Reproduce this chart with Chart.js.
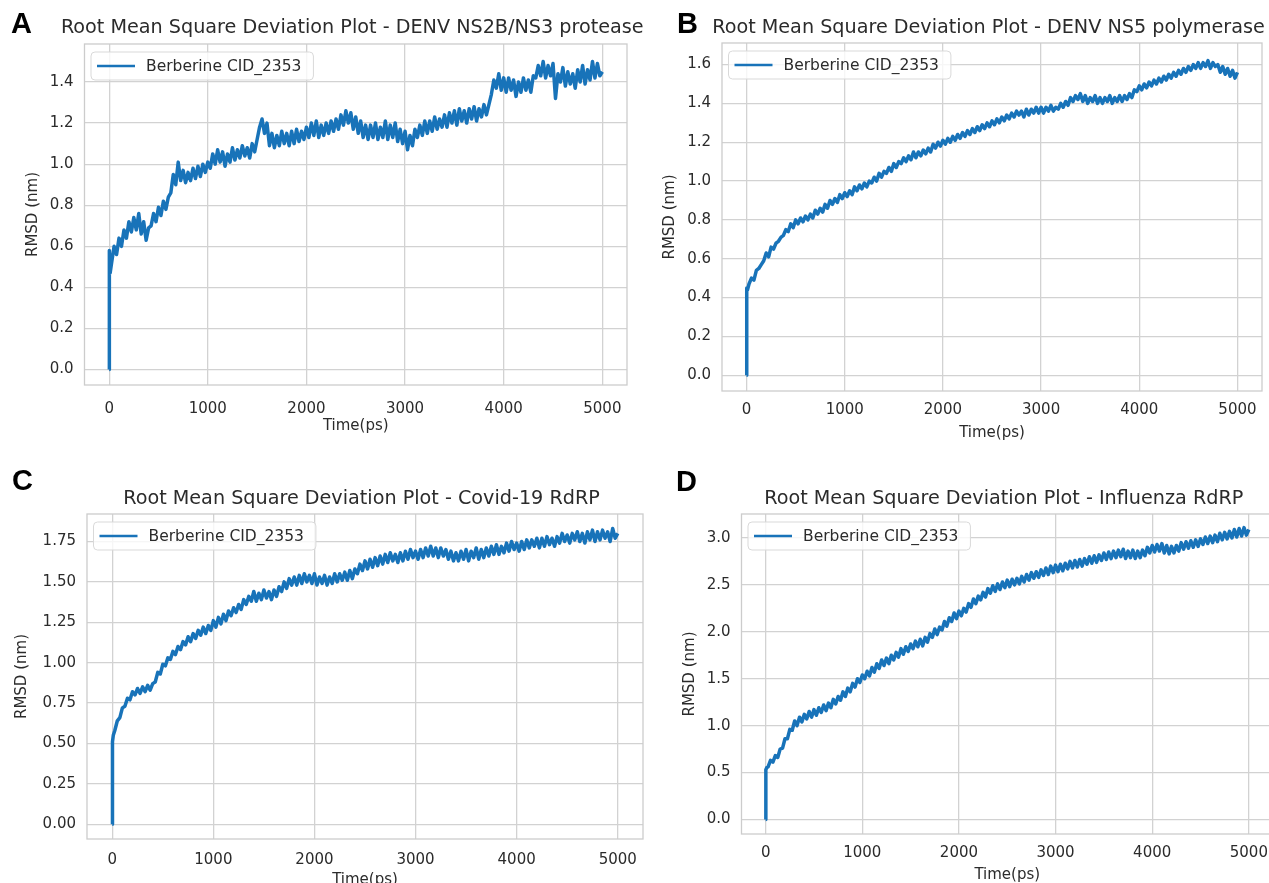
<!DOCTYPE html>
<html lang="en">
<head>
<meta charset="UTF-8">
<title>RMSD plots - Berberine CID_2353</title>
<script src="https://cdn.jsdelivr.net/npm/chart.js"></script>
<style>
  html, body { margin: 0; padding: 0; background: #fff; overflow: hidden; }
  body { width: 1269px; height: 883px; position: relative; }
  canvas { position: absolute; }
</style>
</head>
<body>
<canvas id="chartA" width="660" height="450" style="left:0px;top:0px"></canvas>
<canvas id="chartB" width="629" height="450" style="left:640px;top:0px"></canvas>
<canvas id="chartC" width="660" height="460" style="left:0px;top:441px"></canvas>
<canvas id="chartD" width="625" height="460" style="left:655px;top:441px"></canvas>

<script>
// simulation time (ps), shared by all four runs
const timePs = [0, 2, 10,
  25, 50, 75, 100, 125, 150, 175, 200,
  225, 250, 275, 300, 325, 350, 375, 400,
  425, 450, 475, 500, 525, 550, 575, 600,
  625, 650, 675, 700, 725, 750, 775, 800,
  825, 850, 875, 900, 925, 950, 975, 1000,
  1025, 1050, 1075, 1100, 1125, 1150, 1175, 1200,
  1225, 1250, 1275, 1300, 1325, 1350, 1375, 1400,
  1425, 1450, 1475, 1500, 1525, 1550, 1575, 1600,
  1625, 1650, 1675, 1700, 1725, 1750, 1775, 1800,
  1825, 1850, 1875, 1900, 1925, 1950, 1975, 2000,
  2025, 2050, 2075, 2100, 2125, 2150, 2175, 2200,
  2225, 2250, 2275, 2300, 2325, 2350, 2375, 2400,
  2425, 2450, 2475, 2500, 2525, 2550, 2575, 2600,
  2625, 2650, 2675, 2700, 2725, 2750, 2775, 2800,
  2825, 2850, 2875, 2900, 2925, 2950, 2975, 3000,
  3025, 3050, 3075, 3100, 3125, 3150, 3175, 3200,
  3225, 3250, 3275, 3300, 3325, 3350, 3375, 3400,
  3425, 3450, 3475, 3500, 3525, 3550, 3575, 3600,
  3625, 3650, 3675, 3700, 3725, 3750, 3775, 3800,
  3825, 3850, 3875, 3900, 3925, 3950, 3975, 4000,
  4025, 4050, 4075, 4100, 4125, 4150, 4175, 4200,
  4225, 4250, 4275, 4300, 4325, 4350, 4375, 4400,
  4425, 4450, 4475, 4500, 4525, 4550, 4575, 4600,
  4625, 4650, 4675, 4700, 4725, 4750, 4775, 4800,
  4825, 4850, 4875, 4900, 4925, 4950, 4975, 5000];

// A - DENV NS2B/NS3 protease (nm)
const rmsdProtease = [0.00, 0.58, 0.47,
  0.52, 0.60, 0.56, 0.64, 0.60, 0.68, 0.64, 0.72,
  0.67, 0.74, 0.68, 0.76, 0.66, 0.72, 0.63, 0.69,
  0.70, 0.76, 0.72, 0.79, 0.75, 0.82, 0.78, 0.84,
  0.86, 0.95, 0.90, 1.01, 0.92, 0.97, 0.91, 0.96,
  0.92, 0.98, 0.93, 0.99, 0.94, 1.00, 0.96, 1.01,
  0.98, 1.05, 1.00, 1.07, 1.01, 1.06, 0.99, 1.05,
  1.01, 1.08, 1.02, 1.07, 1.03, 1.09, 1.04, 1.08,
  1.03, 1.10, 1.06, 1.12, 1.18, 1.22, 1.15, 1.20,
  1.09, 1.15, 1.08, 1.14, 1.09, 1.16, 1.10, 1.15,
  1.09, 1.16, 1.10, 1.17, 1.11, 1.16, 1.12, 1.18,
  1.13, 1.20, 1.14, 1.21, 1.13, 1.19, 1.14, 1.20,
  1.15, 1.21, 1.16, 1.22, 1.17, 1.24, 1.19, 1.26,
  1.20, 1.25, 1.17, 1.23, 1.15, 1.21, 1.13, 1.19,
  1.12, 1.19, 1.13, 1.20, 1.12, 1.18, 1.13, 1.21,
  1.12, 1.19, 1.13, 1.20, 1.11, 1.17, 1.10, 1.16,
  1.07, 1.14, 1.09, 1.17, 1.13, 1.19, 1.14, 1.21,
  1.15, 1.21, 1.16, 1.23, 1.17, 1.22, 1.18, 1.24,
  1.18, 1.25, 1.20, 1.26, 1.19, 1.27, 1.21, 1.26,
  1.20, 1.27, 1.22, 1.28, 1.21, 1.27, 1.23, 1.29,
  1.24, 1.29, 1.34, 1.41, 1.37, 1.44, 1.36, 1.42,
  1.35, 1.42, 1.36, 1.41, 1.33, 1.40, 1.35, 1.42,
  1.36, 1.41, 1.35, 1.43, 1.42, 1.48, 1.43, 1.50,
  1.42, 1.48, 1.43, 1.49, 1.32, 1.44, 1.40, 1.47,
  1.38, 1.45, 1.39, 1.44, 1.37, 1.46, 1.40, 1.48,
  1.39, 1.46, 1.41, 1.50, 1.42, 1.49, 1.43, 1.45];

// B - DENV NS5 polymerase (nm)
const rmsdPolymerase = [0.00, 0.45, 0.44,
  0.47, 0.50, 0.49, 0.54, 0.55, 0.57, 0.59, 0.63,
  0.61, 0.66, 0.65, 0.68, 0.69, 0.71, 0.72, 0.75,
  0.74, 0.78, 0.76, 0.80, 0.78, 0.81, 0.79, 0.82,
  0.80, 0.83, 0.81, 0.85, 0.83, 0.86, 0.84, 0.88,
  0.86, 0.90, 0.88, 0.91, 0.89, 0.93, 0.91, 0.94,
  0.92, 0.95, 0.93, 0.97, 0.95, 0.98, 0.96, 0.99,
  0.97, 1.00, 0.99, 1.02, 1.00, 1.04, 1.02, 1.05,
  1.04, 1.07, 1.05, 1.09, 1.07, 1.10, 1.09, 1.12,
  1.10, 1.13, 1.11, 1.15, 1.12, 1.15, 1.13, 1.16,
  1.14, 1.17, 1.15, 1.19, 1.17, 1.20, 1.18, 1.21,
  1.19, 1.22, 1.20, 1.23, 1.21, 1.24, 1.22, 1.25,
  1.23, 1.26, 1.24, 1.27, 1.25, 1.28, 1.26, 1.29,
  1.27, 1.30, 1.28, 1.31, 1.29, 1.32, 1.30, 1.33,
  1.31, 1.34, 1.32, 1.35, 1.33, 1.36, 1.34, 1.36,
  1.33, 1.37, 1.34, 1.37, 1.35, 1.38, 1.35, 1.38,
  1.35, 1.38, 1.36, 1.39, 1.36, 1.38, 1.37, 1.40,
  1.38, 1.41, 1.39, 1.43, 1.41, 1.44, 1.42, 1.45,
  1.41, 1.44, 1.40, 1.43, 1.41, 1.44, 1.40, 1.43,
  1.40, 1.43, 1.41, 1.44, 1.40, 1.43, 1.41, 1.44,
  1.41, 1.44, 1.42, 1.45, 1.43, 1.47, 1.46, 1.49,
  1.47, 1.50, 1.48, 1.51, 1.49, 1.52, 1.50, 1.53,
  1.51, 1.54, 1.52, 1.55, 1.53, 1.56, 1.54, 1.57,
  1.55, 1.58, 1.56, 1.59, 1.57, 1.60, 1.58, 1.61,
  1.58, 1.61, 1.59, 1.62, 1.58, 1.61, 1.59, 1.60,
  1.56, 1.59, 1.55, 1.58, 1.54, 1.57, 1.53, 1.56];

// C - Covid-19 RdRP (nm)
const rmsdCovid = [0.00, 0.51, 0.55,
  0.58, 0.64, 0.66, 0.72, 0.73, 0.78, 0.77, 0.82,
  0.80, 0.84, 0.81, 0.85, 0.82, 0.86, 0.83, 0.87,
  0.88, 0.94, 0.93, 0.99, 0.98, 1.03, 1.02, 1.07,
  1.05, 1.10, 1.08, 1.13, 1.11, 1.16, 1.13, 1.18,
  1.15, 1.20, 1.17, 1.22, 1.18, 1.23, 1.20, 1.26,
  1.22, 1.28, 1.24, 1.30, 1.26, 1.32, 1.29, 1.34,
  1.31, 1.36, 1.33, 1.39, 1.36, 1.41, 1.38, 1.44,
  1.38, 1.43, 1.39, 1.45, 1.40, 1.44, 1.39, 1.45,
  1.41, 1.47, 1.44, 1.50, 1.46, 1.52, 1.48, 1.53,
  1.48, 1.54, 1.49, 1.55, 1.50, 1.54, 1.49, 1.55,
  1.48, 1.53, 1.49, 1.54, 1.48, 1.53, 1.49, 1.55,
  1.50, 1.55, 1.51, 1.56, 1.51, 1.57, 1.52, 1.58,
  1.55, 1.61, 1.57, 1.63, 1.58, 1.64, 1.59, 1.65,
  1.60, 1.66, 1.61, 1.67, 1.62, 1.68, 1.63, 1.67,
  1.62, 1.68, 1.63, 1.69, 1.64, 1.70, 1.65, 1.69,
  1.64, 1.70, 1.65, 1.71, 1.66, 1.72, 1.66, 1.71,
  1.65, 1.71, 1.66, 1.70, 1.64, 1.69, 1.63, 1.68,
  1.63, 1.69, 1.64, 1.70, 1.63, 1.69, 1.65, 1.71,
  1.64, 1.70, 1.65, 1.71, 1.66, 1.72, 1.67, 1.73,
  1.67, 1.72, 1.68, 1.74, 1.69, 1.75, 1.70, 1.74,
  1.69, 1.75, 1.70, 1.76, 1.71, 1.76, 1.72, 1.77,
  1.71, 1.77, 1.72, 1.78, 1.73, 1.77, 1.72, 1.78,
  1.74, 1.80, 1.75, 1.79, 1.74, 1.80, 1.76, 1.81,
  1.75, 1.80, 1.74, 1.81, 1.76, 1.82, 1.75, 1.81,
  1.76, 1.82, 1.77, 1.81, 1.75, 1.83, 1.77, 1.80];

// D - Influenza RdRP (nm)
const rmsdInfluenza = [0.00, 0.53, 0.55,
  0.56, 0.63, 0.61, 0.68, 0.66, 0.75, 0.76, 0.86,
  0.86, 0.96, 0.95, 1.05, 1.00, 1.09, 1.04, 1.12,
  1.07, 1.15, 1.09, 1.17, 1.11, 1.19, 1.14, 1.22,
  1.16, 1.24, 1.19, 1.28, 1.23, 1.31, 1.27, 1.36,
  1.31, 1.40, 1.36, 1.45, 1.41, 1.50, 1.46, 1.54,
  1.50, 1.58, 1.53, 1.62, 1.57, 1.66, 1.61, 1.70,
  1.64, 1.72, 1.66, 1.75, 1.70, 1.78, 1.73, 1.82,
  1.76, 1.84, 1.79, 1.87, 1.82, 1.90, 1.84, 1.92,
  1.85, 1.94, 1.89, 1.98, 1.94, 2.03, 1.97, 2.05,
  2.02, 2.11, 2.06, 2.15, 2.11, 2.20, 2.14, 2.22,
  2.17, 2.25, 2.21, 2.30, 2.26, 2.35, 2.30, 2.38,
  2.34, 2.42, 2.37, 2.46, 2.41, 2.49, 2.43, 2.51,
  2.45, 2.53, 2.47, 2.55, 2.48, 2.56, 2.50, 2.57,
  2.51, 2.59, 2.53, 2.61, 2.55, 2.63, 2.57, 2.64,
  2.58, 2.66, 2.60, 2.68, 2.61, 2.70, 2.63, 2.71,
  2.64, 2.72, 2.65, 2.73, 2.67, 2.75, 2.68, 2.76,
  2.69, 2.77, 2.70, 2.78, 2.72, 2.80, 2.73, 2.81,
  2.74, 2.82, 2.76, 2.84, 2.77, 2.85, 2.78, 2.86,
  2.79, 2.87, 2.80, 2.88, 2.78, 2.86, 2.79, 2.87,
  2.78, 2.86, 2.79, 2.87, 2.81, 2.90, 2.84, 2.92,
  2.85, 2.93, 2.86, 2.94, 2.84, 2.92, 2.83, 2.91,
  2.84, 2.92, 2.86, 2.95, 2.88, 2.96, 2.89, 2.97,
  2.90, 2.98, 2.91, 2.99, 2.93, 3.01, 2.94, 3.02,
  2.95, 3.03, 2.96, 3.05, 2.98, 3.06, 2.99, 3.07,
  3.00, 3.09, 3.01, 3.10, 3.02, 3.11, 3.03, 3.09];

const ligandLabel = 'Berberine CID_2353';
const xTickValues = [0, 1000, 2000, 3000, 4000, 5000];

const lineColor = '#1873b9';
const gridColor = '#d2d2d2';
const textColor = '#2b2b2b';
Chart.defaults.font.family = '"DejaVu Sans", sans-serif';

// title, panel letter, frame and legend box in the matplotlib/seaborn look
const panelDecor = {
  id: 'panelDecor',
  beforeDatasetsDraw(chart) {
    const {ctx, chartArea: a} = chart;
    ctx.save();
    ctx.strokeStyle = '#cccccc';
    ctx.lineWidth = 1.3;
    ctx.strokeRect(a.left, a.top, a.right - a.left, a.bottom - a.top);
    ctx.restore();
  },
  afterDraw(chart, args, opts) {
    const {ctx, chartArea: a} = chart;
    ctx.save();
    ctx.fillStyle = textColor;
    ctx.font = '19.2px "DejaVu Sans"';
    ctx.textAlign = 'center';
    ctx.textBaseline = 'middle';
    ctx.fillText(opts.title, (a.left + a.right) / 2 - 3.5, opts.titleY);

    ctx.fillStyle = '#000';
    ctx.font = 'bold 29px "Liberation Sans"';
    ctx.textAlign = 'left';
    ctx.fillText(opts.letter, opts.letterX, opts.letterY);

    const ds = chart.data.datasets[0];
    ctx.font = '15.5px "DejaVu Sans"';
    const tw = ctx.measureText(ds.label).width;
    const bx = a.left + 6.5, by = a.top + 8, bw = tw + 67, bh = 28;
    ctx.beginPath();
    ctx.roundRect(bx, by, bw, bh, 4);
    ctx.fillStyle = 'rgba(255,255,255,0.8)';
    ctx.fill();
    ctx.strokeStyle = '#d9d9d9';
    ctx.lineWidth = 1;
    ctx.stroke();
    ctx.beginPath();
    ctx.moveTo(bx + 6, by + bh / 2);
    ctx.lineTo(bx + 44, by + bh / 2);
    ctx.strokeStyle = ds.borderColor;
    ctx.lineWidth = 2.5;
    ctx.stroke();
    ctx.fillStyle = textColor;
    ctx.fillText(ds.label, bx + 55, by + bh / 2 + 1);
    ctx.restore();
  }
};

function makePanel(id, values, p) {
  const points = timePs.map((t, i) => ({ x: t, y: values[i] }));
  return new Chart(document.getElementById(id), {
    type: 'line',
    data: {
      datasets: [{
        label: ligandLabel,
        data: points,
        borderColor: lineColor,
        borderWidth: 3.5,
        pointRadius: 0,
        tension: 0,
        borderJoinStyle: 'round'
      }]
    },
    options: {
      responsive: false,
      animation: false,
      events: [],
      layout: { padding: { left: 0, right: p.padRight, top: p.padTop, bottom: 0 } },
      plugins: {
        legend: { display: false },
        tooltip: { enabled: false },
        panelDecor: { title: p.title, titleY: p.titleY, letter: p.letter, letterX: p.letterX, letterY: p.letterY }
      },
      scales: {
        x: {
          type: 'linear',
          min: -250,
          max: 5250,
          afterBuildTicks: s => { s.ticks = xTickValues.map(v => ({ value: v })); },
          ticks: { padding: p.xTickPad, color: textColor, font: { size: 15 }, callback: v => String(v) },
          grid: { color: gridColor, lineWidth: 1.3, drawTicks: false },
          border: { display: false },
          title: { display: true, text: 'Time(ps)', color: textColor, font: { size: 15 }, padding: { top: 0, bottom: p.xTitlePad } },
          afterFit: s => { s.height = p.xAxisH; }
        },
        y: {
          min: p.yMin,
          max: p.yMax,
          afterBuildTicks: s => { s.ticks = p.yTicks.map(v => ({ value: v })); },
          ticks: { padding: 11, color: textColor, font: { size: 15 }, callback: v => v.toFixed(p.yDigits) },
          grid: { color: gridColor, lineWidth: 1.3, drawTicks: false },
          border: { display: false },
          title: { display: true, text: 'RMSD (nm)', color: textColor, font: { size: 15 }, padding: { top: p.yTitlePad, bottom: 0 } },
          afterFit: s => { s.width = p.yAxisW; }
        }
      }
    },
    plugins: [panelDecor]
  });
}

makePanel('chartA', rmsdProtease, {
  title: 'Root Mean Square Deviation Plot - DENV NS2B/NS3 protease', titleY: 28,
  letter: 'A', letterX: 11, letterY: 25,
  padTop: 44, padRight: 33, yAxisW: 84.5, xAxisH: 65,
  xTickPad: 15, xTitlePad: 15, yTitlePad: 24,
  yMin: -0.075, yMax: 1.585, yTicks: [0, 0.2, 0.4, 0.6, 0.8, 1.0, 1.2, 1.4], yDigits: 1
});

makePanel('chartB', rmsdPolymerase, {
  title: 'Root Mean Square Deviation Plot - DENV NS5 polymerase', titleY: 28,
  letter: 'B', letterX: 37, letterY: 25,
  padTop: 43, padRight: 7, yAxisW: 82, xAxisH: 59,
  xTickPad: 10, xTitlePad: 8, yTitlePad: 21,
  yMin: -0.081, yMax: 1.711, yTicks: [0, 0.2, 0.4, 0.6, 0.8, 1.0, 1.2, 1.4, 1.6], yDigits: 1
});

makePanel('chartC', rmsdCovid, {
  title: 'Root Mean Square Deviation Plot - Covid-19 RdRP', titleY: 58,
  letter: 'C', letterX: 12, letterY: 41,
  padTop: 73, padRight: 17, yAxisW: 87, xAxisH: 62,
  xTickPad: 12, xTitlePad: 12, yTitlePad: 13,
  yMin: -0.0915, yMax: 1.92, yTicks: [0, 0.25, 0.5, 0.75, 1.0, 1.25, 1.5, 1.75], yDigits: 2
});

makePanel('chartD', rmsdInfluenza, {
  title: 'Root Mean Square Deviation Plot - Influenza RdRP', titleY: 58,
  letter: 'D', letterX: 21, letterY: 42,
  padTop: 73, padRight: 7, yAxisW: 86.5, xAxisH: 67,
  xTickPad: 10, xTitlePad: 17, yTitlePad: 26,
  yMin: -0.155, yMax: 3.255, yTicks: [0, 0.5, 1.0, 1.5, 2.0, 2.5, 3.0], yDigits: 1
});
</script>
</body>
</html>
